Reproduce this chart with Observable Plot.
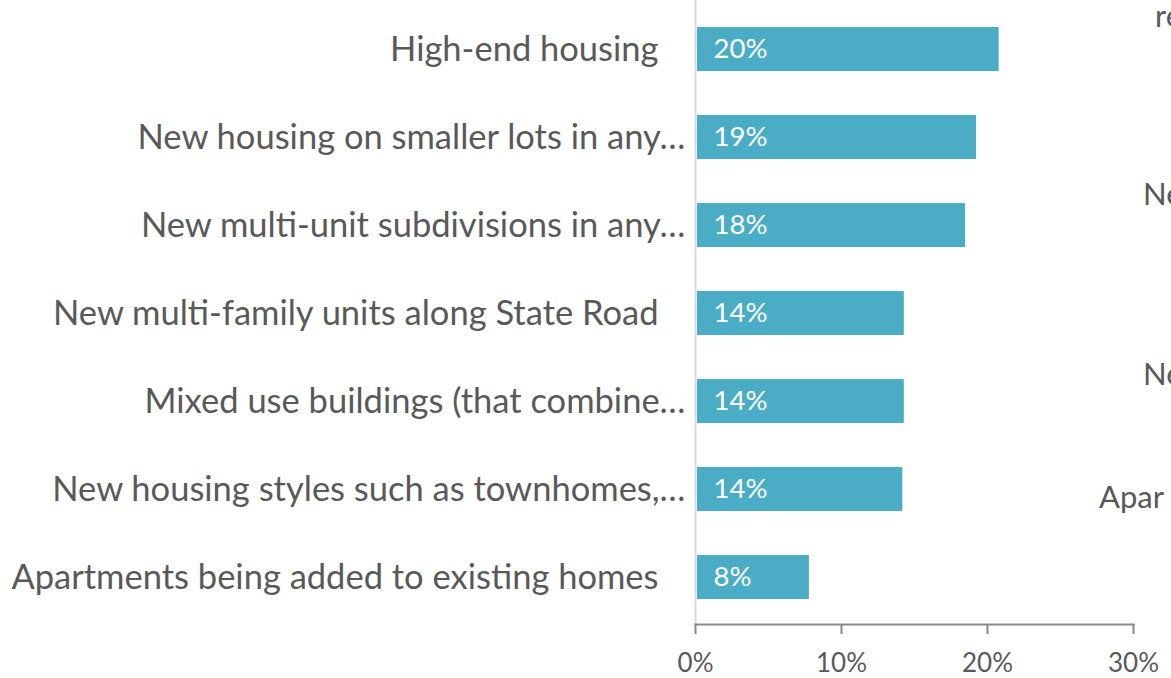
<!DOCTYPE html>
<html><head><meta charset="utf-8">
<script src="https://cdn.jsdelivr.net/npm/d3@7"></script>
<script src="https://cdn.jsdelivr.net/npm/@observablehq/plot@0.6"></script>
<style>
body{margin:0;background:#fff;overflow:hidden;font-family:Lato,sans-serif;}
#wrap{position:relative;width:1171px;height:678px;overflow:hidden;}
#wrap svg{position:absolute;left:0;top:0;}
</style></head><body><div id="wrap"></div>
<script>
const categories = [
  "High-end housing",
  "New housing on smaller lots in any…",
  "New multi-unit subdivisions in any…",
  "New multi-family units along State Road",
  "Mixed use buildings (that combine…",
  "New housing styles such as townhomes,…",
  "Apartments being added to existing homes"
];
const values = [0.208, 0.1925, 0.185, 0.143, 0.143, 0.142, 0.078];
const valueLabels = ["20%", "19%", "18%", "14%", "14%", "14%", "8%"];
const xTicks = [0, 0.1, 0.2, 0.3];
// fragments of a neighbouring chart's labels cut off at the right edge
const rightFragments = ["re", "Ne", "Ne", "Apar"];

const data = categories.map((c, i) => ({
  category: c, value: values[i], label: valueLabels[i], truncated: c.endsWith("…")
}));

const textColor = "#595959";
const chart = Plot.plot({
  width: 1171, height: 678,
  marginLeft: 695, marginRight: 38, marginTop: 2, marginBottom: 54,
  style: {fontFamily: "Lato, sans-serif", color: textColor, background: "transparent", overflow: "visible"},
  x: {domain: [0, 0.3], axis: null},
  y: {domain: categories, paddingInner: 0.5, paddingOuter: 0.25, axis: null},
  marks: [
    Plot.ruleX([0], {stroke: "#d9d9d9", strokeWidth: 2, insetTop: -2}),
    Plot.barX(data, {x: "value", y: "category", fill: "#4BACC6", insetLeft: 2}),
    Plot.text(data, {x: 0, y: "category", text: "label", textAnchor: "start", dx: 18, fill: "white", fontSize: 27.5}),
    Plot.frame({anchor: "bottom", stroke: "#898989", strokeWidth: 2}),
    Plot.axisX({ticks: xTicks, tickSize: 10, tickPadding: 19, tickFormat: d3.format(".0%"), stroke: "#898989", strokeWidth: 2, fill: textColor, fontSize: 26, label: null}),
    Plot.text(data.filter(d => !d.truncated), {x: 0, y: "category", text: "category", textAnchor: "end", dx: -37, fontSize: 34.5, fill: textColor}),
    Plot.text(data.filter(d => d.truncated), {x: 0, y: "category", text: "category", textAnchor: "end", dx: -10, fontSize: 34.5, fill: textColor})
  ]
});
document.getElementById("wrap").appendChild(chart);

// cut-off labels of the adjacent chart at the right edge
const fragPos = [[1155, 27], [1143, 205], [1143, 385], [1099, 508]];
const over = d3.select("#wrap").append("svg").attr("width", 1171).attr("height", 678);
over.selectAll("text").data(rightFragments).join("text")
  .attr("x", (d, i) => fragPos[i][0]).attr("y", (d, i) => fragPos[i][1])
  .attr("fill", textColor).attr("font-size", 31).attr("font-family", "Lato, sans-serif")
  .text(d => d);
</script></body></html>
